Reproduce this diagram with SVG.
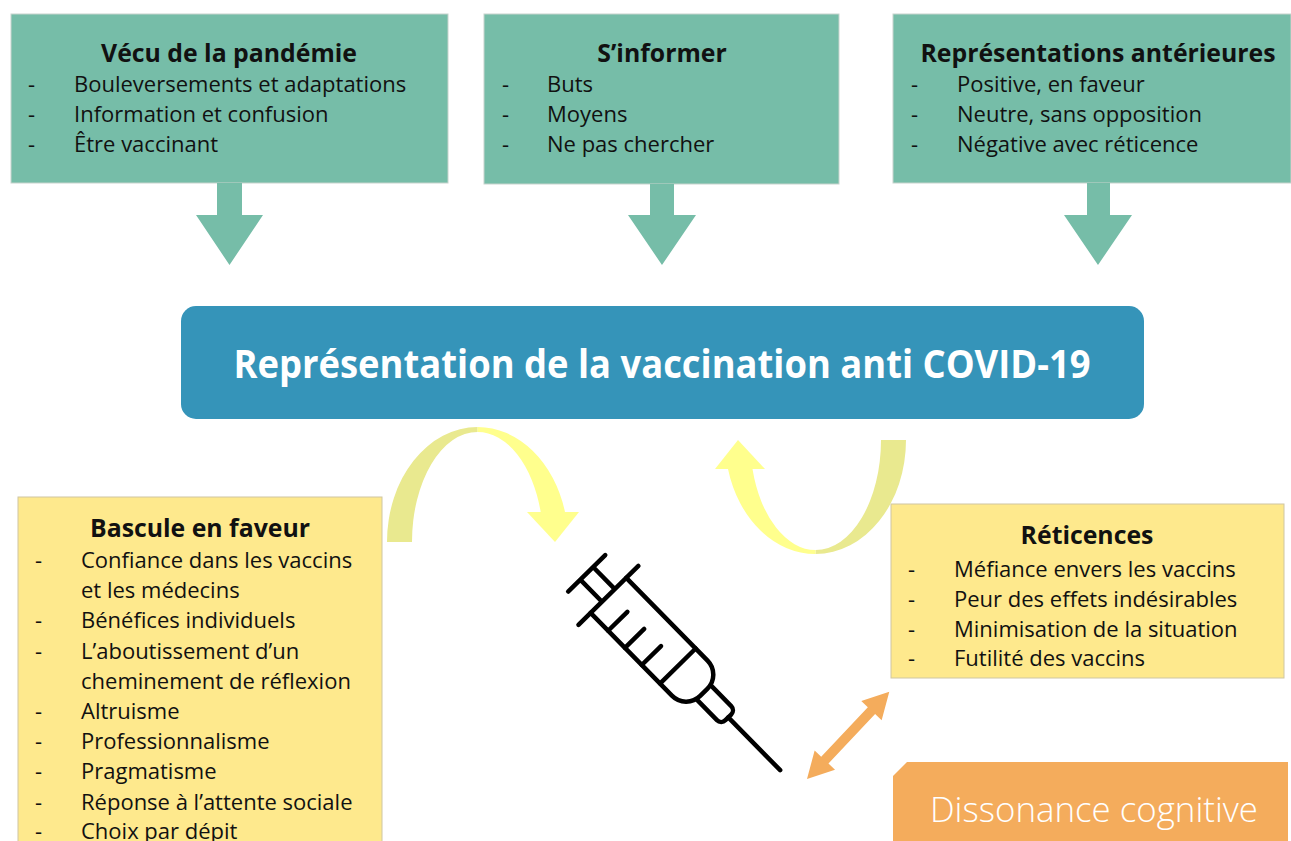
<svg xmlns="http://www.w3.org/2000/svg" width="1291" height="841" viewBox="0 0 1291 841">
<style>
text{font-family:"Open Sans","Liberation Sans",sans-serif;fill:#111}
.t{font-size:24.8px;font-weight:700;text-anchor:middle}
.i{font-size:22px}
.teal{fill:#76bda8}
.tealbox{fill:#76bda8;stroke:#c7d3cd;stroke-width:1}
.yel{fill:#fee98d;stroke:#cfc6a2;stroke-width:1}
.dark{fill:#e9e98f}
.light{fill:#ffff8d}
.syr{fill:none;stroke:#000;stroke-width:4.5;stroke-linecap:round;stroke-linejoin:round}
</style>
<rect width="1291" height="841" fill="#fff"/>

<g id="node-vecu">
<rect class="tealbox" x="11" y="14" width="437" height="169"/>
<text class="t" x="229" y="62">Vécu de la pandémie</text>
<text class="i" x="28" y="92">-</text><text class="i" x="74" y="92">Bouleversements et adaptations</text>
<text class="i" x="28" y="122">-</text><text class="i" x="74" y="122">Information et confusion</text>
<text class="i" x="28" y="152">-</text><text class="i" x="74" y="152">Être vaccinant</text>
</g>

<g id="node-sinformer">
<rect class="tealbox" x="484" y="14" width="355" height="170"/>
<text class="t" x="662" y="62">S’informer</text>
<text class="i" x="502" y="92">-</text><text class="i" x="547" y="92">Buts</text>
<text class="i" x="502" y="122">-</text><text class="i" x="547" y="122">Moyens</text>
<text class="i" x="502" y="152">-</text><text class="i" x="547" y="152">Ne pas chercher</text>
</g>

<g id="node-representations">
<rect class="tealbox" x="893" y="14" width="398" height="169"/>
<text class="t" x="1098" y="62">Représentations antérieures</text>
<text class="i" x="911" y="92">-</text><text class="i" x="957" y="92">Positive, en faveur</text>
<text class="i" x="911" y="122">-</text><text class="i" x="957" y="122">Neutre, sans opposition</text>
<text class="i" x="911" y="152">-</text><text class="i" x="957" y="152">Négative avec réticence</text>
</g>

<g id="node-center">
<rect x="181" y="306" width="963" height="113" rx="15" fill="#3594b9"/>
<text x="662" y="378" style="font-size:40px;font-weight:700;fill:#fff;text-anchor:middle" textLength="857" lengthAdjust="spacingAndGlyphs">Représentation de la vaccination anti COVID-19</text>
</g>

<g id="node-bascule">
<rect class="yel" x="18" y="497" width="364" height="350"/>
<text class="t" x="200" y="537">Bascule en faveur</text>
<text class="i" x="35" y="568">-</text><text class="i" x="81" y="568">Confiance dans les vaccins</text>
<text class="i" x="81" y="598">et les médecins</text>
<text class="i" x="35" y="628">-</text><text class="i" x="81" y="628">Bénéfices individuels</text>
<text class="i" x="35" y="659">-</text><text class="i" x="81" y="659">L’aboutissement d’un</text>
<text class="i" x="81" y="689">cheminement de réflexion</text>
<text class="i" x="35" y="719">-</text><text class="i" x="81" y="719">Altruisme</text>
<text class="i" x="35" y="749">-</text><text class="i" x="81" y="749">Professionnalisme</text>
<text class="i" x="35" y="779">-</text><text class="i" x="81" y="779">Pragmatisme</text>
<text class="i" x="35" y="810">-</text><text class="i" x="81" y="810">Réponse à l’attente sociale</text>
<text class="i" x="35" y="839">-</text><text class="i" x="81" y="839">Choix par dépit</text>
</g>

<g id="node-reticences">
<rect class="yel" x="891" y="504" width="393" height="174"/>
<text class="t" x="1087" y="544">Réticences</text>
<text class="i" x="908" y="577">-</text><text class="i" x="954" y="577">Méfiance envers les vaccins</text>
<text class="i" x="908" y="607">-</text><text class="i" x="954" y="607">Peur des effets indésirables</text>
<text class="i" x="908" y="637">-</text><text class="i" x="954" y="637">Minimisation de la situation</text>
<text class="i" x="908" y="666">-</text><text class="i" x="954" y="666">Futilité des vaccins</text>
</g>

<g id="node-dissonance">
<path d="M907,762 H1288 V845 H893 V776 Z" fill="#f4ac5c"/>
<text x="1094" y="822" style="font-size:35px;font-weight:300;fill:#fff;text-anchor:middle" textLength="328" lengthAdjust="spacingAndGlyphs">Dissonance cognitive</text>
</g>

<g id="node-syringe" class="syr" transform="translate(586.7,573.3) rotate(45.5)">
<path d="M0,-26 V26 M0,-9 H31 M0,9 H31 M31,-42 V42"/>
<path d="M31,-25 H147 A20,20 0 0 1 167,-5 V5 A20,20 0 0 1 147,25 H31"/>
<path d="M56,25 V-2 M80,25 V-2 M104,25 V-2 M130,-25 V25"/>
<path d="M167,-10 H196 A6,6 0 0 1 202,-4 V4 A6,6 0 0 1 196,10 H167"/>
<path d="M202,0 H276"/>
</g>

<g id="connectors">
<path class="teal" d="M217,183 H242 V215 H263 L229.5,265 L196,215 H217 Z"/>
<path class="teal" d="M650,184 H674 V215 H696 L662,265 L628,215 H650 Z"/>
<path class="teal" d="M1087,183 H1110 V215 H1132 L1098,265 L1064,215 H1087 Z"/>
<path class="dark" d="M387,542 A90.6,115 0 0 1 477.6,427 L477.6,432 A65.6,110 0 0 0 412,542 Z"/>
<path class="light" d="M477.6,427 A90.6,115 0 0 1 565,512 L540.7,512 A65.6,110 0 0 0 477.6,432 Z"/>
<polygon class="light" points="527,512 579,512 555,542"/>
<path class="dark" d="M906,440 A90.5,114 0 0 1 815.5,554 L815.5,550 A65.5,110 0 0 0 881,440 Z"/>
<path class="light" d="M815.5,554 A90.5,114 0 0 1 728,469 L752.5,469 A65.5,110 0 0 0 815.5,550 Z"/>
<polygon class="light" points="715,469 765,469 738,440"/>
<polygon fill="#f4ac5c" transform="translate(807,779) rotate(-46.7)" points="0,0 26,-14 26,-5 94,-5 94,-14 120,0 94,14 94,5 26,5 26,14"/>
</g>
</svg>
